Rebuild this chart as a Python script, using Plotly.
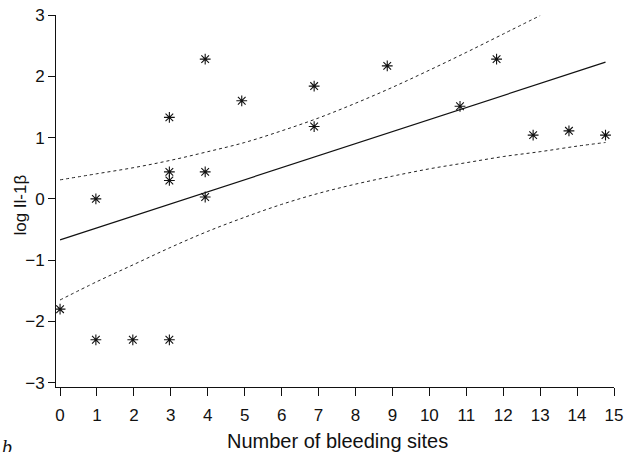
import plotly.graph_objects as go

# Observed points (x = number of bleeding sites, y = log IL-1beta)
sites = [0, 0.97, 0.97, 1.97, 2.96, 2.96, 2.96, 2.96, 3.93, 3.93, 3.93,
         4.92, 6.88, 6.88, 8.86, 10.83, 11.82, 12.81, 13.78, 14.77]
log_il1b = [-1.80, 0.00, -2.30, -2.30, -2.30, 0.30, 0.44, 1.33, 0.03, 0.44, 2.28,
            1.60, 1.18, 1.84, 2.17, 1.51, 2.28, 1.04, 1.11, 1.04]

# Fitted regression line (end points)
fit_x = [0, 14.77]
fit_y = [-0.67, 2.23]

# Confidence band
upper_x = [0, 1, 2, 3, 4, 5, 6, 7, 8, 9, 10, 11, 12, 13]
upper_y = [0.31, 0.41, 0.51, 0.63, 0.77, 0.92, 1.11, 1.32, 1.56, 1.82, 2.10, 2.39, 2.69, 2.99]
lower_x = [0, 1, 2, 3, 4, 5, 6, 7, 8, 9, 10, 11, 12, 13, 14, 14.77]
lower_y = [-1.65, -1.35, -1.07, -0.79, -0.53, -0.30, -0.09, 0.09, 0.24, 0.37, 0.49, 0.59,
           0.69, 0.77, 0.86, 0.92]

x_ticks = list(range(0, 16))
y_ticks = [-3, -2, -1, 0, 1, 2, 3]
y_tick_text = ["\u22123", "\u22122", "\u22121", "0", "1", "2", "3"]

X_RANGE = [-0.11, 15]
FONT = "Liberation Sans, Arial, Helvetica, sans-serif"

fig = go.Figure()
fig.add_trace(go.Scatter(x=upper_x, y=upper_y, mode="lines", line_shape="spline",
                         line=dict(color="#222", width=1, dash="3px,3px"), hoverinfo="skip"))
fig.add_trace(go.Scatter(x=lower_x, y=lower_y, mode="lines", line_shape="spline",
                         line=dict(color="#222", width=1, dash="3px,3px"), hoverinfo="skip"))
fig.add_trace(go.Scatter(x=fit_x, y=fit_y, mode="lines",
                         line=dict(color="#111", width=1.2), hoverinfo="skip"))
fig.add_trace(go.Scatter(x=sites, y=log_il1b, mode="markers",
                         marker=dict(symbol="asterisk-open", size=9, color="#111",
                                     line=dict(color="#111", width=1.1))))
# invisible helper trace so the overlaid tick-mark axis is drawn
fig.add_trace(go.Scatter(x=[x_ticks[0]], y=[y_ticks[0]], xaxis="x2", mode="markers",
                         marker=dict(opacity=0), hoverinfo="skip"))

fig.update_layout(
    width=629, height=452,
    margin=dict(l=56, r=15, t=15, b=65, autoexpand=False),
    paper_bgcolor="white", plot_bgcolor="white",
    showlegend=False,
    font=dict(family=FONT, size=17, color="#111"),
    xaxis=dict(
        range=X_RANGE, tickvals=x_ticks, ticktext=[str(v) for v in x_ticks],
        showgrid=False, zeroline=False, showline=True, linecolor="#111", linewidth=1,
        ticks="outside", ticklen=13, tickwidth=1, tickcolor="rgba(0,0,0,0)",
        automargin=False,
    ),
    xaxis2=dict(
        range=X_RANGE, tickvals=x_ticks, overlaying="x", anchor="y", side="bottom",
        showgrid=False, zeroline=False, showline=False, showticklabels=False,
        ticks="outside", ticklen=8, tickwidth=1, tickcolor="#111", automargin=False,
    ),
    yaxis=dict(
        range=[-3.07, 3], tickvals=y_ticks, ticktext=y_tick_text,
        showgrid=False, zeroline=False, showline=True, linecolor="#111", linewidth=1,
        ticks="outside", ticklen=7, tickwidth=1, tickcolor="#111",
        automargin=False,
    ),
)
# axis titles placed as in the reference
fig.add_annotation(text="Number of bleeding sites", xref="paper", yref="paper",
                   x=0.504, y=-0.145, xanchor="center", yanchor="middle",
                   showarrow=False, font=dict(size=20, color="#111"))
fig.add_annotation(text="log Il-1\u03b2", xref="paper", yref="paper", x=-0.063, y=0.49,
                   xanchor="center", yanchor="middle", textangle=-90, showarrow=False,
                   font=dict(size=17, color="#111"))
fig.add_annotation(text="<i>b</i>", xref="paper", yref="paper", x=-0.10, y=-0.127,
                   xanchor="left", yanchor="top", showarrow=False,
                   font=dict(family="Liberation Serif, serif", size=20, color="#111"))

fig.write_html("out.html", config={"displayModeBar": False},
               post_script="document.body.style.margin='0';document.body.style.padding='0';")
